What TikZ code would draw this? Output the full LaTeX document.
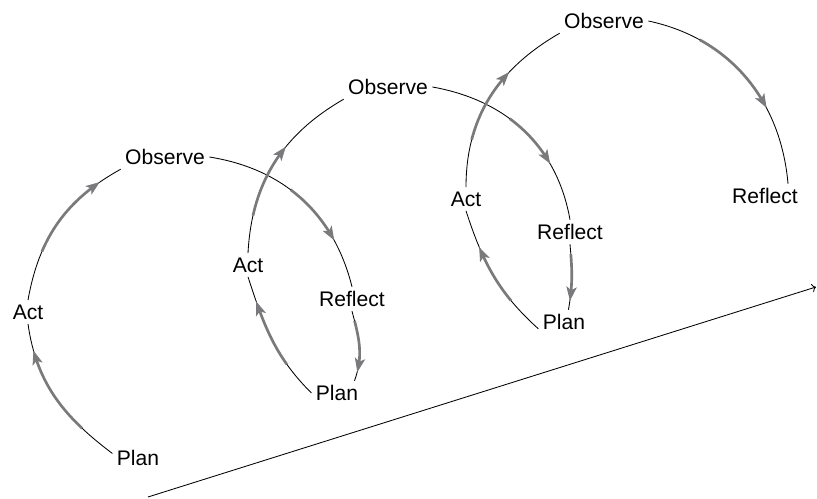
\documentclass[tikz,border=0pt]{standalone}
\usepackage{fontspec}
\setmainfont{Liberation Sans}
\usetikzlibrary{arrows.meta,decorations,decorations.markings}

\definecolor{arrowgray}{RGB}{122,122,124}

\tikzset{
    stage/.style={inner sep=3pt, font=\fontsize{15}{18}\selectfont},
    % thin black line, grey thick stretch from #1 after start to #2 before end
    loopedge/.style 2 args={draw=black, line width=0.6pt,
        postaction={draw=arrowgray, line width=1.9pt, decorate,
            decoration={curveto, pre=moveto, pre length=#1, post=moveto, post length=#2}},
        postaction={decorate, decoration={markings,
            mark=at position -#2 with {\pgftransformxshift{3.5pt}%
                \arrow[color=arrowgray]{Stealth[length=10pt,width=7.5pt,inset=2.5pt]}}}}}
}

\begin{document}
\begin{tikzpicture}
    \useasboundingbox (0,0) rectangle (20.425,12.475);

    % First loop
    \node[stage] (p1) at (3.45, 1.025) {Plan};
    \node[stage] (a1) at (0.70, 4.675) {Act};
    \node[stage] (o1) at (4.125, 8.55) {Observe};
    \node[stage] (r1) at (8.80, 5.00) {Reflect};

    % Second loop
    \node[stage] (p2) at (8.425, 2.65) {Plan};
    \node[stage] (a2) at (6.20, 5.85) {Act};
    \node[stage] (o2) at (9.70, 10.30) {Observe};
    \node[stage] (r2) at (14.25, 6.675) {Reflect};

    % Third loop
    \node[stage] (p3) at (14.10, 4.425) {Plan};
    \node[stage] (a3) at (11.65, 7.50) {Act};
    \node[stage] (o3) at (15.10, 11.95) {Observe};
    \node[stage] (r3) at (19.125, 7.575) {Reflect};

    % Time axis
    \coordinate (t0) at (3.70, 0.05);
    \coordinate (t1) at (20.40, 5.30);
    \draw[line width=0.6pt, ->] (t0) -- (t1);

    % Connections
    \draw[loopedge={28pt}{23pt}] (p1.170) to[out=143, in=-82] (a1.south);
    \draw[loopedge={36pt}{21pt}] (a1.north) to[out=80, in=-151] (o1.south west);
    \draw[loopedge={63pt}{39pt}] (o1.east) to[out=-9, in=104] (r1.north);
    \draw[loopedge={7pt}{10pt}] (r1.south) to[out=-75, in=70] (p2.35);
    \draw[loopedge={27pt}{22pt}] (p2.west) to[out=135, in=-72] (a2.south);
    \draw[loopedge={27pt}{57pt}] (a2.north) to[out=87, in=-150] (o2.south west);
    \draw[loopedge={60pt}{46pt}] (o2.east) to[out=-10, in=100] (r2.north);
    \draw[loopedge={7pt}{10pt}] (r2.south) to[out=-85, in=80] (p3.70);
    \draw[loopedge={28pt}{31pt}] (p3.195) to[out=138, in=-72] (a3.south);
    \draw[loopedge={34pt}{49pt}] (a3.north) to[out=90, in=-150] (o3.south west);
    \draw[loopedge={39pt}{60pt}] (o3.east) to[out=-12, in=95] (r3.28);

\end{tikzpicture}
\end{document}
